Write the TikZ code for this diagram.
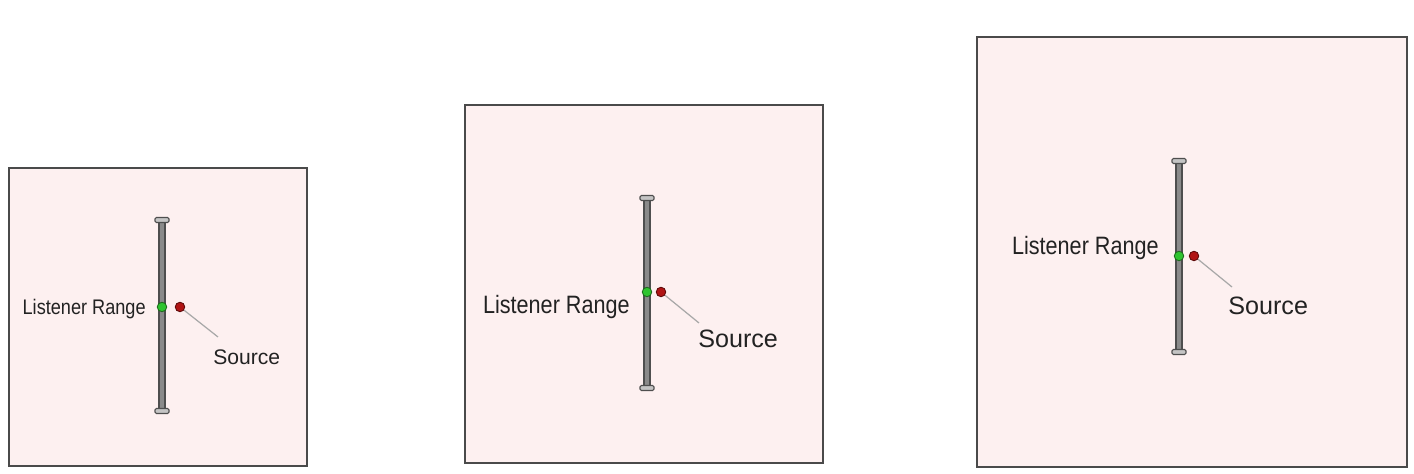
\documentclass[tikz,border=0pt]{standalone}
\usepackage{fontspec}
\setmainfont{Liberation Sans}
\usepackage{graphicx}
\usetikzlibrary{positioning}
\definecolor{Fondo}{HTML}{FDF0F0}
\definecolor{Borde}{HTML}{4A4A4A}
\definecolor{RodGray}{HTML}{8A8A8A}
\definecolor{RodDark}{HTML}{4E4E4E}
\definecolor{CapGray}{HTML}{C4C4C4}
\definecolor{GreenDot}{HTML}{2FC42F}
\definecolor{GreenDark}{HTML}{1E6B1E}
\definecolor{RedDot}{HTML}{B01414}
\definecolor{RedDark}{HTML}{5E0A0A}
\definecolor{LeadGray}{HTML}{A8A8A8}
\definecolor{TextDark}{HTML}{222222}

\begin{document}
\begin{tikzpicture}[
  panel/.style={draw=Borde,line width=1.1pt,fill=Fondo},
  rod/.style={draw=RodDark,fill=RodGray,line width=0.6pt},
  endcap/.style={draw=RodDark,fill=CapGray,line width=0.6pt,rounded corners=0.8pt},
  listener/.style={circle,draw=GreenDark,fill=GreenDot,line width=0.5pt,inner sep=0pt,minimum size=0.19cm},
  source/.style={circle,draw=RedDark,fill=RedDot,line width=0.5pt,inner sep=0pt,minimum size=0.19cm},
  lead/.style={draw=LeadGray,line width=0.7pt},
  lbl/.style={inner sep=0pt,text=TextDark},
  small/.style={font=\fontsize{12}{14}\selectfont},
  big/.style={font=\fontsize{14.3}{17}\selectfont}
]
  \useasboundingbox (0,0) rectangle (28.28,9.48);

  % Panel 1, the small room.
  \path[panel] (0.18,0.16) rectangle (6.14,6.12);
  \path[rod] (3.18,1.30) rectangle (3.30,5.04);
  \path[endcap] (3.10,1.21) rectangle (3.38,1.31);
  \path[endcap] (3.10,5.03) rectangle (3.38,5.13);
  \node[listener] (lis1) at (3.24,3.34) {};
  \node[source] (src1) at (3.60,3.34) {};
  \node[lbl,small,anchor=east] (range1) at (2.92,3.30)
    {\scalebox{0.86}[1]{Listener Range}};
  \coordinate (tip1) at (4.36,2.74);
  \node[lbl,small,below right=0.24cm and -0.10cm of tip1] (name1) {Source};
  \draw[lead] (src1) -- (tip1);

  % Panel 2, the middle room.
  \path[panel] (9.30,0.22) rectangle (16.46,7.38);
  \path[rod] (12.88,1.76) rectangle (13.00,5.48);
  \path[endcap] (12.80,1.67) rectangle (13.08,1.77);
  \path[endcap] (12.80,5.47) rectangle (13.08,5.57);
  \node[listener] (lis2) at (12.94,3.64) {};
  \node[source] (src2) at (13.22,3.64) {};
  \node[lbl,big,anchor=east] (range2) at (12.60,3.34)
    {\scalebox{0.86}[1]{Listener Range}};
  \coordinate (tip2) at (13.98,3.02);
  \node[lbl,big,below right=0.14cm and -0.02cm of tip2] (name2) {Source};
  \draw[lead] (src2) -- (tip2);

  % Panel 3, the large room.
  \path[panel] (19.54,0.14) rectangle (28.14,8.74);
  \path[rod] (23.52,2.48) rectangle (23.64,6.22);
  \path[endcap] (23.44,2.39) rectangle (23.72,2.49);
  \path[endcap] (23.44,6.21) rectangle (23.72,6.31);
  \node[listener] (lis3) at (23.58,4.36) {};
  \node[source] (src3) at (23.88,4.36) {};
  \node[lbl,big,anchor=east] (range3) at (23.18,4.52)
    {\scalebox{0.86}[1]{Listener Range}};
  \coordinate (tip3) at (24.64,3.74);
  \node[lbl,big,below right=0.20cm and -0.08cm of tip3] (name3) {Source};
  \draw[lead] (src3) -- (tip3);
\end{tikzpicture}
\end{document}
